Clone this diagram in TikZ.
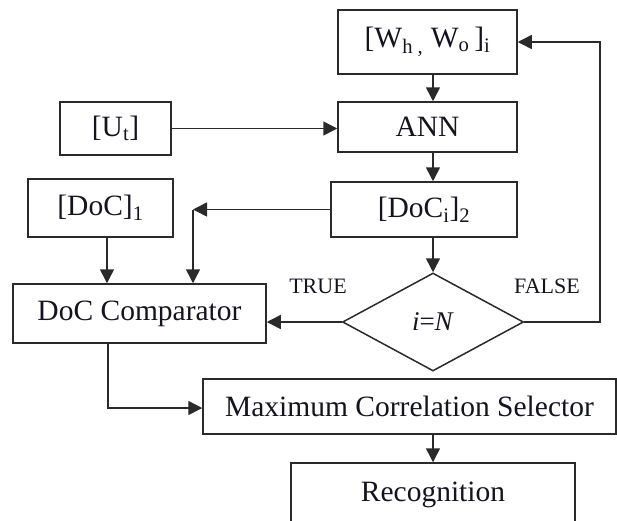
\documentclass[tikz,border=0pt]{standalone}
\usepackage{fontspec}
\setmainfont{Liberation Serif}
\usetikzlibrary{arrows.meta,shapes.geometric}
\definecolor{linec}{HTML}{2A2A2A}
\definecolor{txtc}{HTML}{141420}
\begin{document}
\begin{tikzpicture}[x=1pt,y=-1pt,
  box/.style={draw=linec, line width=1.5pt, inner sep=0pt, text=txtc, font=\fontsize{29.5}{33}\selectfont, anchor=center},
  dia/.style={diamond, draw=linec, line width=1.5pt, inner sep=0pt, text=txtc, font=\fontsize{27}{31}\selectfont, minimum width=181pt, minimum height=98pt},
  arr/.style={draw=linec, line width=1.5pt, -{Triangle[length=14pt,width=14pt]}},
  lbl/.style={text=txtc, font=\fontsize{22}{26}\selectfont, inner sep=0pt}]
\useasboundingbox (0,0) rectangle (617,520);
\clip (0,0) rectangle (617,520);
% nodes
\node[box, minimum width=179pt, minimum height=64pt] (W) at (427.5,42) {[W\textsubscript{h ,} W\textsubscript{o}\,]\textsubscript{i}};
\node[box, minimum width=179pt, minimum height=50pt] (ANN) at (427.5,127) {ANN};
\node[box, minimum width=111pt, minimum height=53pt] (Ut) at (115.5,128.5) {[U\textsubscript{t}]};
\node[box, minimum width=145pt, minimum height=58pt] (DoC1) at (100.5,208) {[DoC]\textsubscript{1}};
\node[box, minimum width=186pt, minimum height=55pt] (DoCi) at (424,209.5) {[DoC\textsubscript{i}]\textsubscript{2}};
\node[dia] (dec) at (433,322) {\textit{i}=\textit{N}};
\node[box, minimum width=253pt, minimum height=59pt] (Comp) at (139.5,313.5) {DoC Comparator};
\node[box, minimum width=413pt, minimum height=55pt] (MCS) at (409.5,406.5) {Maximum Correlation Selector};
\node[box, minimum width=284pt, minimum height=64pt] (Rec) at (433,495) {\raisebox{5pt}{Recognition}};
\node[lbl] (tl) at (318,286) {TRUE};
\node[lbl] (fl) at (547,286) {FALSE};
% helper coordinates
\coordinate (j1) at (193,210);
\coordinate (c1) at (107,0);
\coordinate (rr) at (600,0);
\coordinate (c2) at (108,408);
% connectors
\draw[arr] (W.south -| dec.north) -- (ANN.north -| dec.north);
\draw[arr] (Ut.east) -- (Ut.east -| ANN.west);
\draw[arr] (ANN.south -| dec.north) -- (DoCi.north -| dec.north);
\draw[arr] (DoCi.west) -- (DoCi.west -| j1);
\draw[arr] (DoCi.west -| j1) -- (j1 |- Comp.north);
\draw[arr] (DoC1.south -| c1) -- (Comp.north -| c1);
\draw[arr] (DoCi.south -| dec.north) -- (dec.north);
\draw[arr] (dec.west) -- (dec.west -| Comp.east);
\draw[arr] (dec.east) -- (dec.east -| rr) -- (rr |- W.east) -- (W.east);
\draw[arr] (Comp.south -| c2) -- (c2) -- (c2 -| MCS.west);
\draw[arr] (MCS.south -| dec.north) -- (Rec.north -| dec.north);
\end{tikzpicture}
\end{document}
